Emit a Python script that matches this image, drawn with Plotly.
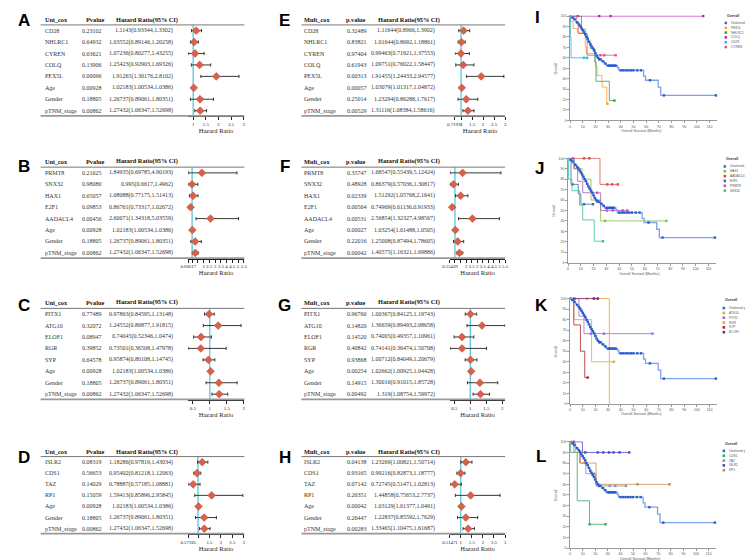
import plotly.graph_objects as go

W, H = 753, 560
def fx(x): return x / W
def fy(y): return 1 - y / H

SERIF = "Liberation Serif"
SANS = "Liberation Sans"

# ---------------- forest data ----------------
A_names = ["CD28", "NHLRC1", "CYREN", "COLQ", "PEX5L", "Age", "Gender", "pTNM_stage"]
A_p = ["0.23102", "0.64932", "0.63621", "0.13906", "0.00096", "0.00928", "0.18805", "0.00862"]
A_hr = [1.1143, 1.03552, 1.07236, 1.25423, 1.91265, 1.02183, 1.26737, 1.27432]
A_lo = [0.93344, 0.89146, 0.80277, 0.92903, 1.30176, 1.00534, 0.89061, 1.06347]
A_hi = [1.3302, 1.20258, 1.43255, 1.69326, 2.8102, 1.0386, 1.80351, 1.52698]
A_tv = [1, 1.5, 2, 2.5, 3]
A_tt = ["1", "1.5", "2", "2.5", "3"]

B_names = ["PRMT8", "SNX32", "HAX1", "E2F1", "AADACL4", "Age", "Gender", "pTNM_stage"]
B_p = ["0.21625", "0.98080", "0.65057", "0.09853", "0.00456", "0.00928", "0.18805", "0.00862"]
B_hr = [1.84935, 0.995, 1.08088, 0.86761, 2.60071, 1.02183, 1.26737, 1.27432]
B_lo = [0.69785, 0.6617, 0.77175, 0.73317, 1.34318, 1.00534, 0.89061, 1.06347]
B_hi = [4.90193, 1.4962, 1.51413, 1.02672, 5.03559, 1.0386, 1.80351, 1.52698]
B_tv = [0.66617, 1, 1.5, 2, 2.5, 3, 3.5, 4, 4.5, 5, 5.5]
B_tt = ["0.66617", "", "", "2", "2.5", "3", "3.5", "4", "4.5", "5", "5.5"]

C_names = ["PITX1", "ATG10", "ELOF1", "RGR", "SYP", "Age", "Gender", "pTNM_stage"]
C_p = ["0.77489", "0.32072", "0.08947", "0.39852", "0.64578", "0.00928", "0.18805", "0.00862"]
C_hr = [0.97863, 1.24552, 0.74045, 0.73501, 0.95874, 1.02183, 1.26737, 1.27432]
C_lo = [0.84595, 0.80877, 0.52346, 0.36508, 0.80108, 1.00534, 0.89061, 1.06347]
C_hi = [1.13148, 1.91815, 1.0474, 1.47978, 1.14745, 1.0386, 1.80351, 1.52698]
C_tv = [0.5, 1, 1.5, 2]
C_tt = ["0.5", "1", "1.5", "2"]

D_names = ["ISLR2", "CDS1", "TAZ", "RP1", "Age", "Gender", "pTNM_stage"]
D_p = ["0.08319", "0.56653", "0.14029", "0.15059", "0.00928", "0.18805", "0.00862"]
D_hr = [1.18286, 0.95402, 0.78887, 1.59413, 1.02183, 1.26737, 1.27432]
D_lo = [0.97819, 0.81218, 0.57185, 0.85896, 1.00534, 0.89061, 1.06347]
D_hi = [1.43034, 1.12063, 1.08881, 2.95845, 1.0386, 1.80351, 1.52698]
D_tv = [0.57185, 1, 1.5, 2, 2.5, 3]
D_tt = ["0.57185", "", "1.5", "2", "2.5", "3"]

E_names = ["CD28", "NHLRC1", "CYREN", "COLQ", "PEX5L", "Age", "Gender", "pTNM_stage"]
E_p = ["0.32489", "0.83821", "0.97404", "0.61943", "0.00313", "0.00057", "0.25014", "0.00529"]
E_hr = [1.11644, 1.01644, 0.99463, 1.09751, 1.91455, 1.03079, 1.23294, 1.31116]
E_lo = [0.8966, 0.8692, 0.71921, 0.76022, 1.24433, 1.01317, 0.86288, 1.08384]
E_hi = [1.3902, 1.18861, 1.37553, 1.58447, 2.94577, 1.04872, 1.7617, 1.58616]
E_tv = [0.71921, 1, 1.5, 2, 2.5, 3]
E_tt = ["0.71921", "1", "1.5", "2", "2.5", "3"]

F_names = ["PRMT8", "SNX32", "HAX1", "E2F1", "AADACL4", "Age", "Gender", "pTNM_stage"]
F_p = ["0.35747", "0.48928", "0.02339", "0.00564", "0.00531", "0.00027", "0.22016", "0.00042"]
F_hr = [1.68547, 0.86379, 1.51292, 0.74969, 2.56854, 1.03254, 1.25008, 1.40575]
F_lo = [0.55439, 0.57036, 1.05768, 0.61136, 1.32327, 1.01488, 0.87494, 1.16321]
F_hi = [5.12424, 1.30817, 2.1641, 0.91933, 4.98567, 1.0505, 1.78605, 1.69886]
F_tv = [0.55439, 1, 1.5, 2, 2.5, 3, 3.5, 4, 4.5, 5, 5.5]
F_tt = ["0.55439", "", "", "2", "2.5", "3", "3.5", "4", "4.5", "5", "5.5"]

G_names = ["PITX1", "ATG10", "ELOF1", "RGR", "SYP", "Age", "Gender", "pTNM_stage"]
G_p = ["0.96760", "0.14820", "0.14520", "0.40842", "0.93868", "0.00254", "0.14915", "0.00492"]
G_hr = [1.00367, 1.36659, 0.74005, 0.74141, 1.00712, 1.02662, 1.30016, 1.319]
G_lo = [0.84125, 0.89493, 0.49357, 0.36474, 0.84049, 1.00925, 0.91015, 1.08754]
G_hi = [1.19743, 2.08658, 1.10961, 1.50708, 1.20679, 1.04428, 1.85728, 1.59972]
G_tv = [0.5, 1, 1.5, 2]
G_tt = ["0.5", "1", "1.5", "2"]

H_names = ["ISLR2", "CDS1", "TAZ", "RP1", "Age", "Gender", "pTNM_stage"]
H_p = ["0.04138", "0.93165", "0.07142", "0.26351", "0.00042", "0.26447", "0.00283"]
H_hr = [1.23269, 0.99216, 0.72745, 1.44858, 1.03129, 1.22837, 1.33465]
H_lo = [1.00821, 0.82873, 0.51471, 0.75653, 1.01377, 0.85592, 1.10475]
H_hi = [1.50714, 1.18777, 1.02813, 2.7737, 1.0491, 1.7629, 1.61687]
H_tv = [0.51471, 1, 1.5, 2, 2.5, 3]
H_tt = ["0.51471", "1", "1.5", "2", "2.5", "3"]

# ---------------- Kaplan-Meier data ----------------
UG_t = [0, 1.5, 3, 4, 5, 6.5, 7.5, 8.5, 9.5, 10.5, 11.5, 12.5, 13.5, 14.5, 15.5, 16.5, 17.5, 18.5,
        19.5, 20.5, 21.5, 23, 25, 27, 28.5, 37.5, 38.5, 58, 59.5, 69.5, 71.5]
UG_s = [100, 98.5, 97, 95.5, 94, 92, 90.5, 88.5, 86.5, 84.5, 82.5, 80, 78, 75.5, 73, 71, 69, 67,
        64.5, 62, 60, 58.5, 56.5, 54.5, 52.5, 50.5, 48, 42.5, 38.5, 32, 24]
UG_end = 115
UG_c = [2, 3.5, 5.5, 7, 8, 9, 10, 11, 12, 13, 14, 15, 16, 17, 18, 19, 20, 21, 22, 23, 24, 26, 28,
        30, 31, 32, 33, 34, 35, 36, 40, 42, 44, 46, 48, 50, 53, 56, 63, 74, 115]

PEX5L_t = [0, 0.5, 2.5, 6, 12, 13, 20, 21.3, 25.2, 29]
PEX5L_s = [100, 95, 88, 84, 70, 64, 52, 43, 32, 16]
PEX5L_end = 29.5
PEX5L_c = [29.5]
NHLRC1_t = [0, 9, 12, 14, 16, 19.5, 20.5, 31]
NHLRC1_s = [100, 87.5, 81, 75, 69, 56, 37.5, 19]
NHLRC1_end = 35
NHLRC1_c = [6, 35]
COLQ_t = [0]
COLQ_s = [100]
COLQ_end = 105
COLQ_c = [23, 32, 105]
CD28_t = [0, 0.3, 0.8]
CD28_s = [100, 80, 60]
CD28_end = 13.5
CD28_c = [11, 13.5]
CYREN_t = [0, 5, 6.5, 13.5]
CYREN_s = [100, 93.75, 83.3, 62.5]
CYREN_end = 36
CYREN_c = [6, 24, 27, 36]

HAX1_t = [0, 5, 11, 18, 25.5]
HAX1_s = [100, 90, 80, 60, 40]
HAX1_end = 77
HAX1_c = [12.8, 29, 77]
AADACL4_t = [0, 25]
AADACL4_s = [100, 75]
AADACL4_end = 39
AADACL4_c = [12.5, 16.6, 30.7, 34.5, 39]
E2F1_t = [0, 2.3, 8, 10]
E2F1_s = [100, 75, 66, 56]
E2F1_end = 19.5
E2F1_c = [3.5, 12.5, 19.5]
PRMT8_t = [0, 4.5, 7.5, 11.5, 25.5]
PRMT8_s = [100, 90, 78, 67, 50]
PRMT8_end = 46.5
PRMT8_c = [3.8, 22.8, 30.4, 35, 42.7, 46.5]
SNX32_t = [0, 0.3, 3, 9, 11.5, 20.5]
SNX32_s = [100, 80, 69, 55, 41, 20.5]
SNX32_end = 27.4
SNX32_c = [27.4]

ATG10_t = [0, 3, 17]
ATG10_s = [100, 80, 40]
ATG10_end = 34.5
ATG10_c = [34.5]
PITX1_t = [0, 7, 11]
PITX1_s = [100, 83.3, 66.7]
PITX1_end = 65
PITX1_c = [16.5, 26.7, 65]
RGR_t = [0, 31]
RGR_s = [100, 0]
RGR_end = 31
RGR_c = [13.4, 18.5, 21.9]
SYP_t = [0, 3, 8.2, 11.6]
SYP_s = [100, 75, 50, 25]
SYP_end = 13.9
SYP_c = [13.9]
ELOF1_t = [0]
ELOF1_s = [100]
ELOF1_end = 22
ELOF1_c = [0.5, 3.5, 19, 22]

CDS1_t = [0, 0.5, 5.7, 15.5]
CDS1_s = [100, 90, 44.5, 22.4]
CDS1_end = 28.2
CDS1_c = [15.5, 28.2]
TAZ_t = [0, 3, 7.5, 12.5, 20.5]
TAZ_s = [100, 90, 80, 70, 58.5]
TAZ_end = 44.4
TAZ_c = [19, 31.5, 35.9, 44.4]
ISLR2_t = [0, 9.8]
ISLR2_s = [100, 90]
ISLR2_end = 47
ISLR2_c = [3, 12.1, 22, 26.4, 31, 34.6, 39.3, 47]
RP1_t = [0, 4, 8.3, 20.7]
RP1_s = [100, 90, 80, 60]
RP1_end = 79
RP1_c = [1, 11.5, 53.5, 79]

# ---------------- figure ----------------
fig = go.Figure()
layout = dict(width=W, height=H, margin=dict(l=0, r=0, t=0, b=0),
              paper_bgcolor="white", plot_bgcolor="white", showlegend=False)
ann = []
shapes = []

forest_panels = [
    ("A", A_names, A_p, A_hr, A_lo, A_hi, A_tv, A_tt, "Uni_cox", "Pvalue", 0, 0),
    ("B", B_names, B_p, B_hr, B_lo, B_hi, B_tv, B_tt, "Uni_cox", "Pvalue", 0, 1),
    ("C", C_names, C_p, C_hr, C_lo, C_hi, C_tv, C_tt, "Uni_cox", "Pvalue", 0, 2),
    ("D", D_names, D_p, D_hr, D_lo, D_hi, D_tv, D_tt, "Uni_cox", "Pvalue", 0, 3),
    ("E", E_names, E_p, E_hr, E_lo, E_hi, E_tv, E_tt, "Mult_cox", "p.value", 1, 0),
    ("F", F_names, F_p, F_hr, F_lo, F_hi, F_tv, F_tt, "Mult_cox", "p.value", 1, 1),
    ("G", G_names, G_p, G_hr, G_lo, G_hi, G_tv, G_tt, "Mult_cox", "p.value", 1, 2),
    ("H", H_names, H_p, H_hr, H_lo, H_hi, H_tv, H_tt, "Mult_cox", "p.value", 1, 3),
]
COLS = [
    dict(name_x=27, p_x=65, hp_x=69, hr_r=162, hh_x=100, l0=25, l1=232, f0=175, f1=231.5, let_x=8),
    dict(name_x=291, p_x=334, hp_x=333, hr_r=428, hh_x=366, l0=290, l1=497, f0=441, f1=497, let_x=273),
]
ROWS = [
    dict(head=11, top=16, bot=108, let_y=12),
    dict(head=153, top=159, bot=251, let_y=158),
    dict(head=295, top=301, bot=393, let_y=298),
    dict(head=445, top=450, bot=528, let_y=451),
]
F0_OVERRIDE = {"E": 446}

TXT = dict(family=SERIF, size=6.0, color="#333")
HDR = dict(family=SERIF, size=6.3, color="#111")

for k, (letter, names, pv, hr, lo, hi, tv, tt, h1, h2, ci, ri) in enumerate(forest_panels, start=1):
    c = COLS[ci]
    r = ROWS[ri]
    sfx = "" if k == 1 else str(k)
    xs, ys = "x" + sfx, "y" + sfx
    n = len(names)
    idx = list(range(n))
    f0 = F0_OVERRIDE.get(letter, c["f0"])
    layout["xaxis" + sfx] = dict(
        domain=[fx(f0), fx(c["f1"])], range=[min(lo), max(max(hi), max(tv))], anchor=ys,
        showgrid=False, zeroline=False, showline=True, linecolor="#222", linewidth=0.8,
        ticks="outside", ticklen=3, tickwidth=0.8, tickcolor="#222", tickangle=0,
        tickmode="array", tickvals=tv, ticktext=tt,
        tickfont=dict(family=SERIF, size=4.8, color="#222"),
        title=dict(text="Hazard Ratio", font=dict(family=SERIF, size=6.5, color="#222"), standoff=0),
    )
    layout["yaxis" + sfx] = dict(domain=[fy(r["bot"]), fy(r["top"])], range=[n - 0.5, -0.5],
                                 anchor=xs, visible=False)
    fig.add_trace(go.Scatter(
        x=hr, y=idx, xaxis=xs, yaxis=ys, mode="markers", cliponaxis=False,
        marker=dict(symbol="diamond", size=6, color="#d9604c", line=dict(color="#b8442f", width=0.5)),
        error_x=dict(type="data", symmetric=False,
                     array=[h - m for h, m in zip(hi, hr)],
                     arrayminus=[m - l for m, l in zip(hr, lo)],
                     color="#222", thickness=0.9, width=1.6),
    ))
    # reference line at HR = 1
    shapes.append(dict(type="line", xref=xs, yref=ys + " domain", x0=1, x1=1, y0=0, y1=1,
                       line=dict(color="#5cc6d6", width=1.3), layer="below"))
    # table rules
    shapes.append(dict(type="line", xref="paper", yref="paper", x0=fx(c["l0"]), x1=fx(c["l1"]),
                       y0=fy(r["top"]), y1=fy(r["top"]), line=dict(color="#777", width=1)))
    shapes.append(dict(type="line", xref="paper", yref="paper", x0=fx(c["l0"]), x1=fx(c["l1"]),
                       y0=fy(r["bot"] - 0.5), y1=fy(r["bot"] - 0.5), line=dict(color="#999", width=1.6)))
    # headers
    for txt, xx in ((h1, c["name_x"]), (h2, c["hp_x"]), ("Hazard Ratio(95% CI)", c["hh_x"])):
        ann.append(dict(text="<b>%s</b>" % txt, x=fx(xx), y=fy(r["head"]), xref="paper", yref="paper",
                        xanchor="left", yanchor="middle", showarrow=False, font=HDR))
    # rows
    for i in idx:
        ann.append(dict(text=names[i], x=fx(c["name_x"]), y=i, xref="paper", yref=ys,
                        xanchor="left", yanchor="middle", showarrow=False, font=TXT))
        ann.append(dict(text=pv[i], x=fx(c["p_x"]), y=i, xref="paper", yref=ys,
                        xanchor="left", yanchor="middle", showarrow=False, font=TXT))
        ann.append(dict(text="%s(%s,%s)" % (hr[i], lo[i], hi[i]), x=fx(c["hr_r"]), y=i,
                        xref="paper", yref=ys, xanchor="right", yanchor="middle",
                        showarrow=False, font=TXT))
    ann.append(dict(text="<b>%s</b>" % letter, x=fx(c["let_x"]), y=fy(r["let_y"]), xref="paper",
                    yref="paper", xanchor="center", yanchor="middle", showarrow=False,
                    font=dict(family=SANS, size=17, color="black")))

# ---------------- KM panels ----------------
UG = ("Unaltered group", UG_t, UG_s, UG_end, UG_c, "#3a6fd8")
km_panels = [
    ("I", [UG,
           ("PEX5L", PEX5L_t, PEX5L_s, PEX5L_end, PEX5L_c, "#f5a623"),
           ("NHLRC1", NHLRC1_t, NHLRC1_s, NHLRC1_end, NHLRC1_c, "#3a9f3a"),
           ("COLQ", COLQ_t, COLQ_s, COLQ_end, COLQ_c, "#b82db8"),
           ("CD28", CD28_t, CD28_s, CD28_end, CD28_c, "#2fb8d8"),
           ("CYREN", CYREN_t, CYREN_s, CYREN_end, CYREN_c, "#e8507e")]),
    ("J", [UG,
           ("HAX1", HAX1_t, HAX1_s, HAX1_end, HAX1_c, "#86c03c"),
           ("AADACL4", AADACL4_t, AADACL4_s, AADACL4_end, AADACL4_c, "#d94c4c"),
           ("E2F1", E2F1_t, E2F1_s, E2F1_end, E2F1_c, "#3b6ea3"),
           ("PRMT8", PRMT8_t, PRMT8_s, PRMT8_end, PRMT8_c, "#b356c6"),
           ("SNX32", SNX32_t, SNX32_s, SNX32_end, SNX32_c, "#38bfa0")]),
    ("K", [UG,
           ("ATG10", ATG10_t, ATG10_s, ATG10_end, ATG10_c, "#c2bd3a"),
           ("PITX1", PITX1_t, PITX1_s, PITX1_end, PITX1_c, "#9a68e0"),
           ("RGR", RGR_t, RGR_s, RGR_end, RGR_c, "#f59a30"),
           ("SYP", SYP_t, SYP_s, SYP_end, SYP_c, "#b02424"),
           ("ELOF1", ELOF1_t, ELOF1_s, ELOF1_end, ELOF1_c, "#7a2c8e")]),
    ("L", [UG,
           ("CDS1", CDS1_t, CDS1_s, CDS1_end, CDS1_c, "#33a86a"),
           ("TAZ", TAZ_t, TAZ_s, TAZ_end, TAZ_c, "#7d93bd"),
           ("ISLR2", ISLR2_t, ISLR2_s, ISLR2_end, ISLR2_c, "#4646c4"),
           ("RP1", RP1_t, RP1_s, RP1_end, RP1_c, "#c98a4c")]),
]
KM_GEO = [
    dict(x0=563, x1=712.5, top=7, bot=112, let=(530, 9), ytx=549, xty=123, lgx=720, lgt=7, lg0=14),
    dict(x0=561, x1=711.5, top=150, bot=255, let=(532, 160), ytx=547, xty=266, lgx=719, lgt=151, lg0=158.3),
    dict(x0=563, x1=712.5, top=291, bot=397, let=(534, 298), ytx=549, xty=407, lgx=718, lgt=293, lg0=300.7),
    dict(x0=563, x1=711.5, top=435, bot=542, let=(533, 450), ytx=549, xty=552.5, lgx=718, lgt=437, lg0=444.3),
]
SMALL = dict(family=SANS, size=3.6, color="#555")
LEG = dict(family=SANS, size=3.2, color="#555")

def step_at(ts, ss, x):
    v = ss[0]
    for t, s in zip(ts, ss):
        if t <= x:
            v = s
    return v

for j, (letter, series) in enumerate(km_panels):
    g = KM_GEO[j]
    k = 9 + j
    xs, ys = "x%d" % k, "y%d" % k
    layout["xaxis%d" % k] = dict(domain=[fx(g["x0"]), fx(g["x1"])], range=[0, 116], anchor=ys,
                                 showgrid=False, zeroline=False, showline=True, linecolor="#9a9a9a",
                                 linewidth=0.8, ticks="outside", ticklen=2, tickwidth=0.6,
                                 tickcolor="#9a9a9a", tickvals=list(range(0, 111, 10)), tickangle=0,
                                 tickfont=SMALL)
    layout["yaxis%d" % k] = dict(domain=[fy(g["bot"]), fy(g["top"] - 0.5)], range=[0, 100.6], anchor=xs,
                                 showgrid=False, zeroline=False, showline=True, linecolor="#9a9a9a",
                                 linewidth=0.8, ticks="outside", ticklen=2, tickwidth=0.6,
                                 tickcolor="#9a9a9a", tickvals=list(range(0, 101, 10)),
                                 ticksuffix="%", tickfont=SMALL)
    for (name, ts, ss, end, cens, col) in series[1:] + series[:1]:
        is_ug = name == "Unaltered group"
        fig.add_trace(go.Scatter(
            x=ts + [end], y=ss + [ss[-1]], xaxis=xs, yaxis=ys, mode="lines",
            line=dict(shape="hv", color=("#7ea2e6" if is_ug else col), width=(1.3 if is_ug else 0.8)),
            hoverinfo="skip"))
        fig.add_trace(go.Scatter(
            x=cens, y=[step_at(ts, ss, c) for c in cens], xaxis=xs, yaxis=ys, mode="markers",
            cliponaxis=False, marker=dict(symbol="square", size=2.4, color=("#2a5bd0" if is_ug else col)),
            hoverinfo="skip"))
    # axis titles
    ann.append(dict(text="Overall", x=fx(g["ytx"]), y=fy((g["top"] + g["bot"]) / 2), xref="paper",
                    yref="paper", textangle=-90, showarrow=False, font=SMALL,
                    xanchor="center", yanchor="middle"))
    ann.append(dict(text="Overall Survival (Months)", x=fx((g["x0"] + g["x1"]) / 2 - 3), y=fy(g["xty"]),
                    xref="paper", yref="paper", showarrow=False, font=SMALL, borderpad=0,
                    xanchor="center", yanchor="middle"))
    # legend (manual)
    ann.append(dict(text="<b>Overall</b>", x=fx(g["lgx"]), y=fy(g["lgt"]), xref="paper", yref="paper",
                    showarrow=False, xanchor="left", yanchor="middle",
                    font=dict(family=SANS, size=3.6, color="#333")))
    for m, (name, ts, ss, end, cens, col) in enumerate(series):
        yy = g["lg0"] + m * 4.85
        shapes.append(dict(type="rect", xref="paper", yref="paper", x0=fx(g["lgx"]), x1=fx(g["lgx"] + 2.6),
                           y0=fy(yy + 1.3), y1=fy(yy - 1.3), fillcolor=col, line=dict(width=0)))
        ann.append(dict(text=name, x=fx(g["lgx"] + 4.5), y=fy(yy), xref="paper", yref="paper",
                        showarrow=False, xanchor="left", yanchor="middle", font=LEG))
    ann.append(dict(text="<b>%s</b>" % letter, x=fx(g["let"][0]), y=fy(g["let"][1]), xref="paper",
                    yref="paper", xanchor="center", yanchor="middle", showarrow=False,
                    font=dict(family=SANS, size=17, color="black")))

layout["annotations"] = ann
layout["shapes"] = shapes
fig.update_layout(**layout)
fig.write_html("out.html")
